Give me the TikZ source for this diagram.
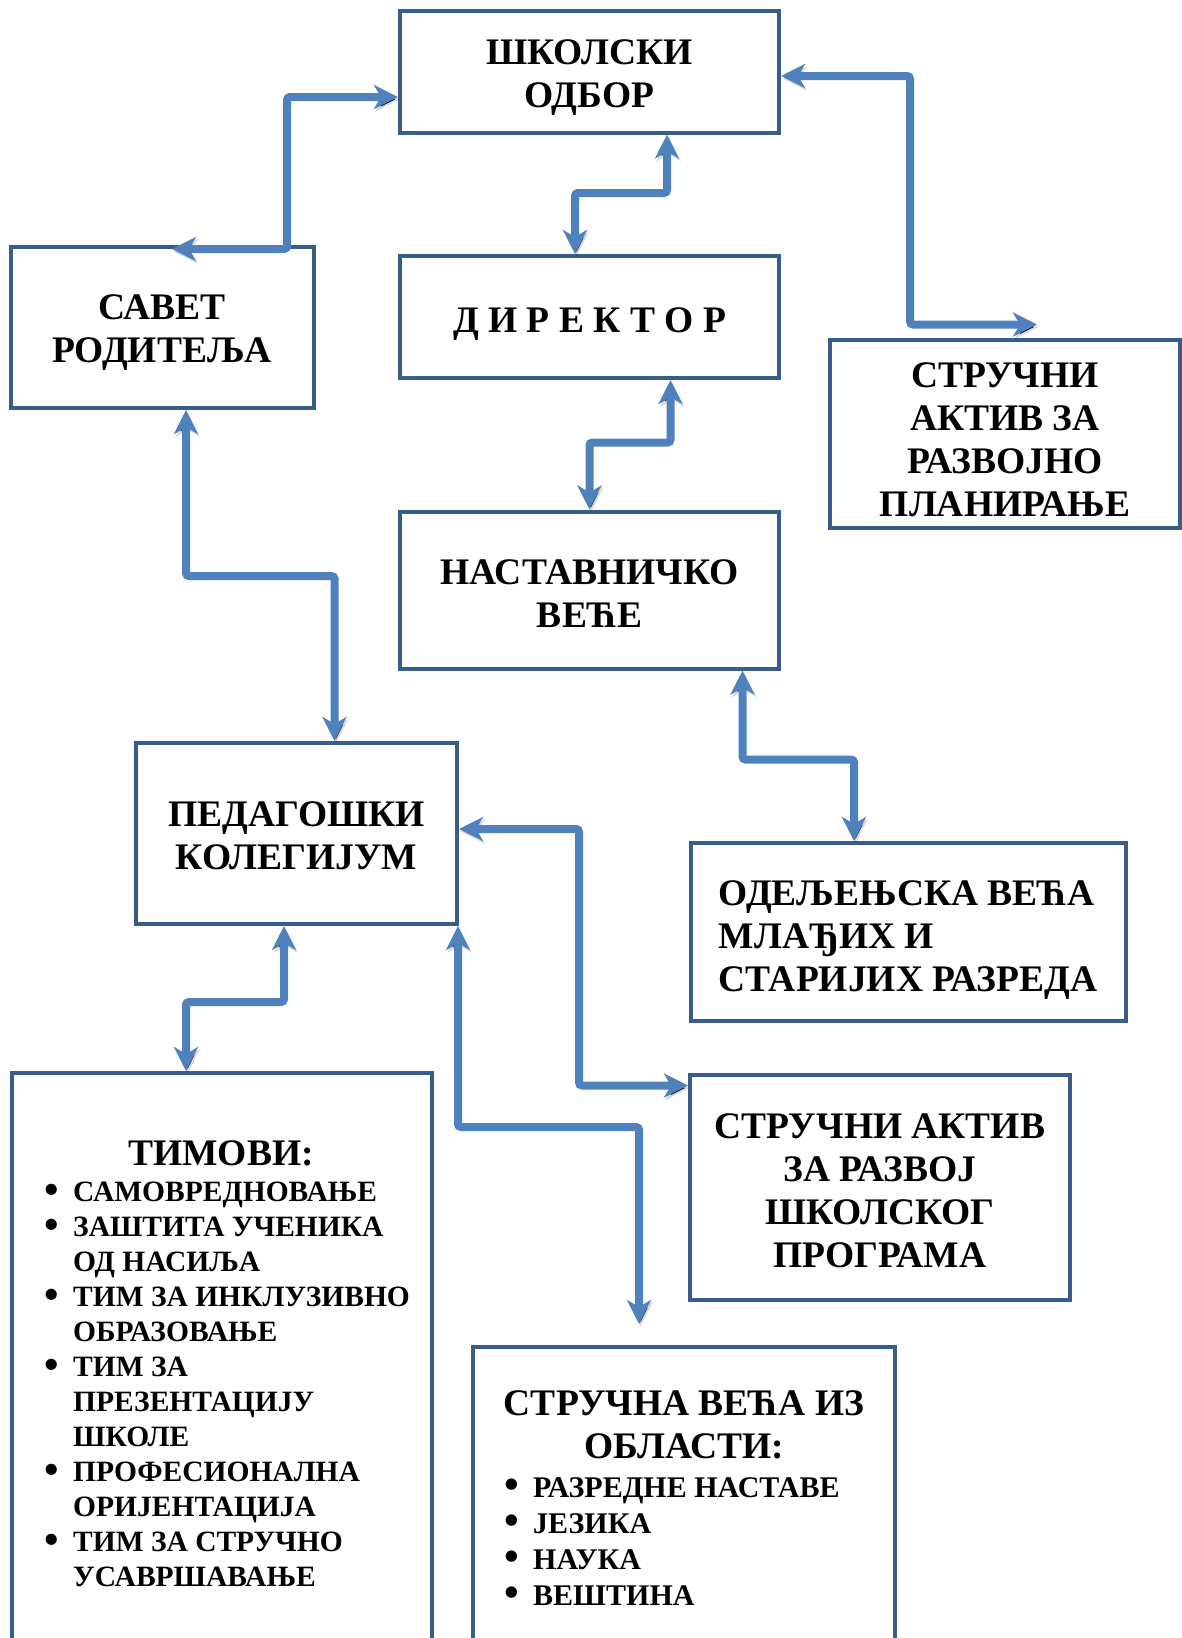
\documentclass[tikz,border=0pt]{standalone}
\usepackage{fontspec}
\setmainfont{Liberation Serif}
\usetikzlibrary{arrows.meta}
\definecolor{boxline}{RGB}{56,93,138}
\definecolor{linkline}{RGB}{79,129,189}
\newcommand\bul{\makebox[29pt][l]{\raisebox{-0.06em}{\scalebox{1.4}{\textbullet}}}}
\newcommand\nob{\hspace*{29pt}}
\begin{document}
\begin{tikzpicture}[x=1pt,y=-1pt]
	\tikzstyle{every node}+=[inner sep=0pt]
	\tikzstyle{box}=[draw=boxline, line width=4pt, align=center, font=\bfseries\fontsize{37.5}{43}\selectfont, text depth=0pt]
	\tikzstyle{naslov}=[align=center, font=\bfseries\fontsize{37.5}{43}\selectfont, text depth=0pt]
	\tikzstyle{link}=[draw=linkline, line width=8pt, rounded corners=3pt, {Stealth[length=24pt,width=24pt,inset=7pt]}-{Stealth[length=24pt,width=24pt,inset=7pt]},
		preaction={draw=black, draw opacity=0.15, transform canvas={xshift=1.5pt,yshift=-2.5pt}}]
	\tikzstyle{list}=[anchor=north west, align=left, font=\bfseries\fontsize{29.5}{35}\selectfont]
	\useasboundingbox (0,0) rectangle (1182,1638);
	\fill [white] (0,0) rectangle (1182,1638);
	\clip (0,0) rectangle (1182,1638);
	\node [box, minimum width=379, minimum height=122, text height=72pt] (odbor) at (589.5,71.5) {ШКОЛСКИ\\ОДБОР};
	\node [box, minimum width=303, minimum height=161, text height=70pt] (savet) at (162,327.5) {САВЕТ\\РОДИТЕЉА};
	\node [box, minimum width=379, minimum height=122, text height=30pt] (direktor) at (589.5,317) {Д И Р Е К Т О Р};
	\node [box, minimum width=350, minimum height=188, text height=166pt] (aktivplan) at (1005,433.5) {СТРУЧНИ\\АКТИВ ЗА\\РАЗВОЈНО\\ПЛАНИРАЊЕ};
	\node [box, minimum width=379, minimum height=157, text height=74pt] (nastavnicko) at (589.5,590) {НАСТАВНИЧКО\\ВЕЋЕ};
	\node [box, minimum width=321, minimum height=181, text height=72pt] (pedagoski) at (296.5,833.5) {ПЕДАГОШКИ\\КОЛЕГИЈУМ};
	\node [box, align=left, minimum width=435, minimum height=178, text height=118pt] (odeljenska) at (908,932) {ОДЕЉЕЊСКА ВЕЋА\\МЛАЂИХ И\\СТАРИЈИХ РАЗРЕДА};
	\node [box, minimum width=380, minimum height=225, text height=160pt] (aktivprog) at (880,1187.5) {СТРУЧНИ АКТИВ\\ЗА РАЗВОЈ\\ШКОЛСКОГ\\ПРОГРАМА};
	\node [box, minimum width=420, minimum height=640] (timovi) at (222,1393) {};
	\node [box, minimum width=422, minimum height=400] (strucna) at (684,1547) {};
	\node [naslov] (timovinaslov) at (221,1153) {ТИМОВИ:};
	\node [list] (timovilista) at (44,1182) {\bul САМОВРЕДНОВАЊЕ\\\bul ЗАШТИТА УЧЕНИКА\\\nob ОД НАСИЉА\\\bul ТИМ ЗА ИНКЛУЗИВНО\\\nob ОБРАЗОВАЊЕ\\\bul ТИМ ЗА\\\nob ПРЕЗЕНТАЦИЈУ\\\nob ШКОЛЕ\\\bul ПРОФЕСИОНАЛНА\\\nob ОРИЈЕНТАЦИЈА\\\bul ТИМ ЗА СТРУЧНО\\\nob УСАВРШАВАЊЕ};
	\node [naslov] (strucnanaslov) at (684,1425) {СТРУЧНА ВЕЋА ИЗ\\ОБЛАСТИ:};
	\node [list, font=\bfseries\fontsize{30}{36}\selectfont] (strucnalista) at (504,1477) {\bul РАЗРЕДНЕ НАСТАВЕ\\\bul ЈЕЗИКА\\\bul НАУКА\\\bul ВЕШТИНА};
	\draw [link] ([yshift=-25.5pt]odbor.west) -| ([xshift=125pt,yshift=-4pt]savet.north) -- ([xshift=10pt,yshift=-4pt]savet.north);
	\draw [link] ([xshift=-14.5pt]direktor.north) -- ++(0,-61) -| ([xshift=77.5pt]odbor.south);
	\draw [link] ([yshift=-4.5pt]odbor.east) -| ([xshift=-95pt,yshift=13pt]aktivplan.north) -- ([xshift=32pt,yshift=13pt]aktivplan.north);
	\draw [link] (nastavnicko.north) -- ++(0,-67) -| ([xshift=81pt]direktor.south);
	\draw [link] ([xshift=24pt]savet.south) -- ++(0,166) -| ([xshift=38pt]pedagoski.north);
	\draw [link] ([xshift=153pt]nastavnicko.south) -- ++(0,89) -| ([xshift=-54pt]odeljenska.north);
	\draw [link] ([yshift=4.5pt]pedagoski.east) -- ++(120,0) |- ([yshift=102pt]aktivprog.west);
	\draw [link] ([xshift=-1pt]pedagoski.south east) -- ++(0,201) -| ([xshift=-45pt,yshift=21pt]strucna.north);
	\draw [link] ([xshift=-12.5pt]pedagoski.south) -- ++(0,76) -| ([xshift=-36pt]timovi.north);
\end{tikzpicture}
\end{document}
